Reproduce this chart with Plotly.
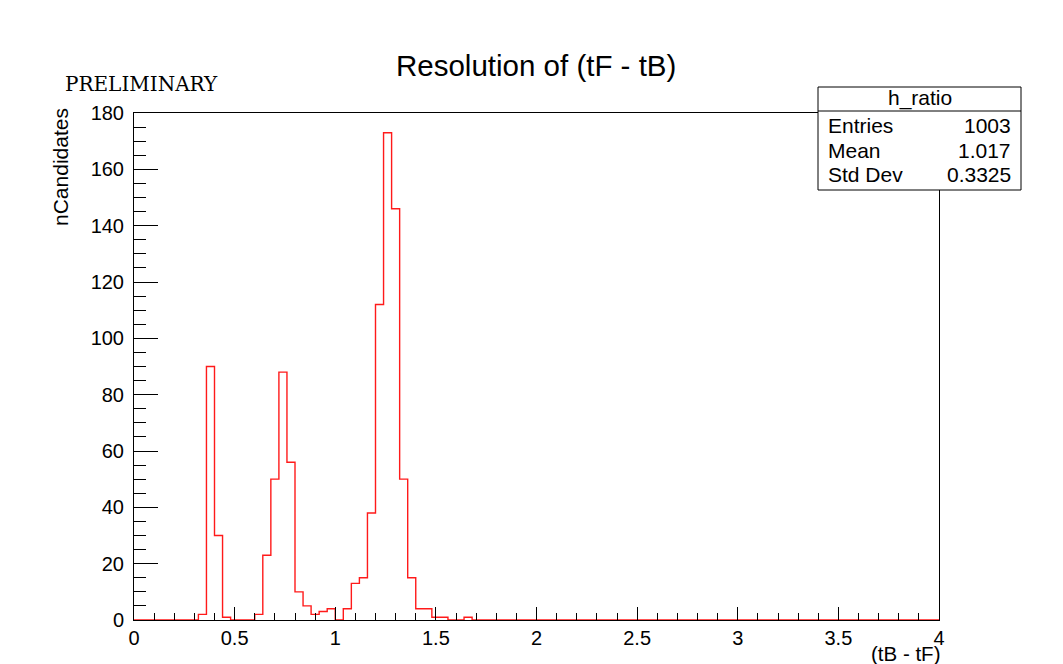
import numpy as np
import plotly.graph_objects as go

# ---- data ----
bin_width = 0.04
x_min, x_max = 0.0, 4.0
# non-zero bins: (left edge, count)
bin_lefts = [0.32, 0.36, 0.40, 0.44,
             0.60, 0.64, 0.68, 0.72, 0.76, 0.80, 0.84, 0.88, 0.92, 0.96,
             1.04, 1.08, 1.12, 1.16, 1.20, 1.24, 1.28, 1.32, 1.36, 1.40, 1.44, 1.48, 1.52, 1.64]
bin_counts = [2, 90, 30, 1,
              2, 23, 50, 88, 56, 10, 5, 2, 3, 4,
              4, 13, 15, 38, 112, 173, 146, 50, 15, 4, 4, 1, 1, 1]
stats_labels = ["Entries", "Mean", "Std Dev"]
stats_values = ["1003", "1.017", "0.3325"]
hist_name = "h_ratio"

n_bins = int(round((x_max - x_min) / bin_width))
edges = np.round(np.linspace(x_min, x_max, n_bins + 1), 4)
counts = np.zeros(n_bins)
for l, c in zip(bin_lefts, bin_counts):
    counts[int(round((l - x_min) / bin_width))] = c

xs = list(edges)
ys = list(counts) + [counts[-1]]

fig = go.Figure()
fig.add_trace(go.Scatter(x=xs, y=ys, mode="lines", line=dict(shape="hv", color="#ff1a1a", width=1.4),
                         hoverinfo="skip", showlegend=False))

# the page body adds an 8px offset; compensate
OFF = 8
W, H = 1063 - OFF, 664 - OFF
L, R, T, B = 134, 939, 113, 620   # plot area in screenshot pixels
pw, ph = R - L, B - T

def px(x):
    return (x - L) / pw

def py(y):
    return (B - y) / ph

font = "Liberation Sans, Arial, sans-serif"

fig.update_layout(
    width=W, height=H,
    margin=dict(l=L - OFF, r=W - (R - OFF), t=T - OFF, b=H - (B - OFF), pad=0),
    paper_bgcolor="white", plot_bgcolor="white",
    font=dict(family=font, size=20, color="black"),
    showlegend=False,
)
fig.update_xaxes(range=[x_min, x_max], showgrid=False, zeroline=False,
                 showline=True, linecolor="black", linewidth=1, mirror=True,
                 ticks="inside", ticklen=13, tickwidth=1, tickcolor="black",
                 tick0=0, dtick=0.5,
                 minor=dict(ticks="inside", ticklen=7, dtick=0.1, tickcolor="black", showgrid=False),
                 tickfont=dict(size=20, family=font), fixedrange=True)
fig.update_yaxes(range=[0, 180], showgrid=False, zeroline=False,
                 showline=True, linecolor="black", linewidth=1, mirror=True,
                 ticks="inside", ticklen=24, tickwidth=1, tickcolor="black",
                 tick0=0, dtick=20,
                 minor=dict(ticks="inside", ticklen=12, dtick=5, tickcolor="black", showgrid=False),
                 tickfont=dict(size=20, family=font), ticklabelstandoff=5, fixedrange=True)

shapes = []
annotations = []
# stats box
bx0, bx1, by0, by1, bhead = 818, 1021, 87, 190, 111
shapes.append(dict(type="rect", xref="paper", yref="paper", x0=px(bx0), x1=px(bx1), y0=py(by1), y1=py(by0),
                   line=dict(color="black", width=1), fillcolor="white", layer="above"))
shapes.append(dict(type="line", xref="paper", yref="paper", x0=px(bx0), x1=px(bx1), y0=py(bhead), y1=py(bhead),
                   line=dict(color="black", width=1), layer="above"))
annotations.append(dict(text=hist_name, xref="paper", yref="paper", x=px((bx0 + bx1) / 2), y=py(98),
                        xanchor="center", yanchor="middle", showarrow=False, font=dict(size=21, family=font)))
row_y = [125, 150, 175]
for lab, val, yy in zip(stats_labels, stats_values, row_y):
    annotations.append(dict(text=lab, xref="paper", yref="paper", x=px(826), y=py(yy),
                            xanchor="left", yanchor="middle", showarrow=False, font=dict(size=21, family=font)))
    annotations.append(dict(text=val, xref="paper", yref="paper", x=px(1013), y=py(yy),
                            xanchor="right", yanchor="middle", showarrow=False, font=dict(size=21, family=font)))

# title
annotations.append(dict(text="Resolution of (tF - tB)", xref="paper", yref="paper", x=px(536), y=py(66),
                        xanchor="center", yanchor="middle", showarrow=False, font=dict(size=29.5, family=font)))
# preliminary
annotations.append(dict(text="PRELIMINARY", xref="paper", yref="paper", x=px(63), y=py(84),
                        xanchor="left", yanchor="middle", showarrow=False,
                        font=dict(size=20, family="DejaVu Serif, serif")))
# y title
annotations.append(dict(text="nCandidates", xref="paper", yref="paper", x=px(61), y=py(106),
                        xanchor="center", yanchor="top", textangle=-90, showarrow=False,
                        font=dict(size=21, family=font)))
# x title
annotations.append(dict(text="(tB - tF)", xref="paper", yref="paper", x=px(942), y=py(653),
                        xanchor="right", yanchor="middle", showarrow=False, font=dict(size=20.5, family=font)))

fig.update_layout(shapes=shapes, annotations=annotations)
fig.write_html("out.html")
